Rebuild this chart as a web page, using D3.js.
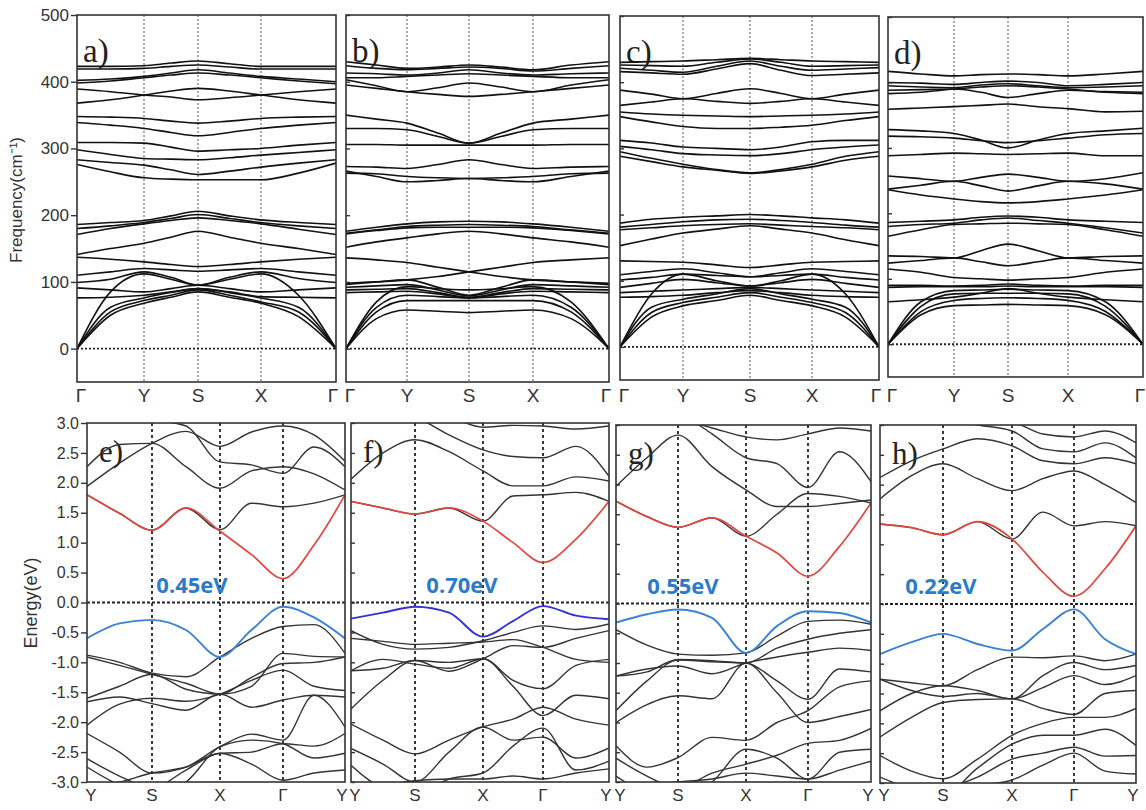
<!DOCTYPE html>
<html>
<head>
<meta charset="utf-8">
<script src="https://cdn.jsdelivr.net/npm/d3@7"></script>
<style>
body { margin: 0; background: #fff; }
svg { display: block; font-family: "Liberation Sans", Arial, sans-serif; }
</style>
</head>
<body>
<div id="chart"></div>
<script>
// k-path sample points (in segment units) shared by every band
const kGrid = [0, 0.5, 1, 1.5, 2, 2.5, 3, 3.5, 4];
const phononPath = ["Γ", "Y", "S", "X", "Γ"];
const electronPath = ["Y", "S", "X", "Γ", "Y"];
const freqTicks = [0, 100, 200, 300, 400, 500];
const energyTicks = [-3.0, -2.5, -2.0, -1.5, -1.0, -0.5, 0.0, 0.5, 1.0, 1.5, 2.0, 2.5, 3.0];
const topNames = ["a)", "b)", "c)", "d)"];
const bottomNames = ["e)", "f)", "g)", "h)"];
const gapLabels = ["0.45eV", "0.70eV", "0.55eV", "0.22eV"];

// phonon bands (cm-1) at Γ, ., Y, ., S, ., X, ., Γ
const phononA = [
  [423, 423, 424, 428, 431, 427, 423, 423, 423],
  [419, 419, 420, 423, 425, 422, 419, 419, 419],
  [402, 404, 408, 413, 418, 413, 408, 404, 400],
  [398, 401, 406, 410, 413, 410, 406, 401, 397],
  [389, 385, 380, 377, 373, 376, 380, 385, 389],
  [368, 373, 380, 386, 390, 386, 380, 373, 368],
  [348, 347, 345, 341, 338, 341, 345, 347, 348],
  [339, 335, 330, 324, 319, 324, 330, 335, 339],
  [309, 309, 308, 302, 296, 298, 300, 305, 309],
  [298, 291, 285, 284, 283, 286, 290, 294, 298],
  [283, 279, 275, 268, 261, 266, 272, 278, 283],
  [276, 265, 256, 254, 253, 253, 253, 263, 278],
  [186, 189, 192, 199, 206, 199, 193, 189, 186],
  [180, 184, 189, 195, 201, 195, 189, 184, 180],
  [171, 180, 187, 192, 196, 192, 187, 179, 171],
  [141, 150, 158, 167, 176, 167, 158, 150, 141],
  [137, 134, 130, 126, 123, 126, 130, 134, 137],
  [110, 115, 120, 118, 116, 118, 120, 115, 110],
  [99, 104, 115, 107, 95, 107, 115, 105, 99],
  [91, 88, 85, 90, 95, 90, 85, 88, 91],
  [76, 77, 80, 85, 90, 85, 78, 77, 76],
  [0, 85, 112, 104, 95, 104, 112, 80, 0],
  [0, 62, 76, 84, 90, 84, 76, 62, 0],
  [0, 55, 72, 80, 88, 80, 70, 55, 0],
  [0, 50, 68, 77, 85, 77, 68, 48, 0]
];
const phononB = [
  [430, 425, 420, 422, 425, 422, 418, 425, 430],
  [424, 420, 418, 420, 422, 420, 416, 420, 424],
  [413, 412, 410, 413, 418, 413, 410, 412, 413],
  [406, 406, 408, 410, 412, 410, 408, 406, 406],
  [403, 394, 385, 391, 398, 392, 385, 395, 403],
  [395, 390, 385, 381, 378, 381, 385, 390, 395],
  [350, 344, 338, 323, 308, 323, 338, 344, 350],
  [330, 330, 328, 318, 308, 318, 328, 330, 330],
  [306, 306, 305, 305, 305, 305, 305, 306, 306],
  [273, 272, 270, 276, 283, 276, 270, 272, 273],
  [266, 258, 250, 252, 255, 252, 250, 258, 266],
  [263, 262, 258, 256, 255, 256, 258, 262, 263],
  [176, 182, 187, 190, 191, 190, 187, 182, 176],
  [173, 178, 183, 185, 186, 185, 183, 178, 173],
  [172, 177, 181, 182, 182, 182, 181, 177, 172],
  [152, 160, 166, 172, 176, 172, 166, 160, 152],
  [136, 133, 129, 122, 115, 108, 103, 100, 98],
  [98, 100, 103, 108, 115, 122, 129, 133, 136],
  [96, 100, 103, 92, 80, 92, 103, 100, 96],
  [92, 94, 96, 88, 79, 88, 96, 94, 92],
  [88, 89, 90, 84, 77, 84, 90, 89, 88],
  [84, 85, 86, 82, 76, 82, 86, 85, 84],
  [0, 70, 93, 90, 88, 90, 93, 70, 0],
  [0, 62, 80, 78, 76, 78, 80, 62, 0],
  [0, 55, 72, 72, 72, 72, 72, 55, 0],
  [0, 45, 58, 56, 54, 56, 58, 45, 0]
];
const phononC = [
  [430, 431, 432, 434, 436, 434, 432, 431, 430],
  [426, 425, 424, 430, 435, 430, 424, 425, 426],
  [421, 418, 415, 424, 432, 424, 418, 420, 422],
  [416, 414, 412, 420, 428, 418, 410, 412, 414],
  [388, 382, 375, 383, 390, 383, 375, 382, 388],
  [365, 370, 375, 371, 368, 371, 375, 370, 365],
  [355, 352, 350, 349, 348, 349, 350, 352, 355],
  [348, 340, 333, 330, 330, 332, 335, 342, 348],
  [312, 308, 302, 300, 298, 302, 310, 312, 312],
  [303, 298, 292, 290, 289, 292, 298, 302, 305],
  [295, 285, 276, 268, 263, 268, 276, 288, 295],
  [288, 280, 272, 267, 262, 266, 272, 282, 288],
  [187, 193, 196, 198, 200, 198, 195, 192, 187],
  [181, 185, 189, 192, 193, 191, 188, 184, 181],
  [177, 180, 183, 185, 186, 184, 182, 180, 177],
  [153, 163, 172, 178, 183, 178, 172, 162, 153],
  [130, 129, 128, 124, 120, 124, 128, 129, 130],
  [109, 114, 118, 112, 106, 112, 118, 114, 109],
  [101, 105, 110, 108, 106, 108, 110, 105, 101],
  [90, 96, 102, 97, 92, 97, 102, 96, 90],
  [82, 84, 86, 88, 90, 88, 86, 84, 82],
  [75, 76, 78, 82, 85, 82, 78, 76, 75],
  [0, 80, 110, 100, 92, 100, 110, 80, 0],
  [0, 60, 72, 80, 88, 80, 72, 60, 0],
  [0, 52, 67, 75, 82, 75, 67, 52, 0],
  [0, 45, 62, 70, 78, 70, 62, 45, 0]
];
const phononD = [
  [417, 413, 410, 412, 413, 412, 410, 413, 417],
  [400, 399, 397, 400, 402, 400, 395, 397, 400],
  [395, 393, 392, 396, 398, 395, 392, 393, 395],
  [388, 389, 390, 385, 377, 383, 388, 386, 385],
  [383, 385, 390, 393, 395, 393, 390, 385, 383],
  [359, 361, 363, 365, 367, 363, 360, 355, 356],
  [328, 326, 322, 312, 300, 312, 322, 326, 330],
  [318, 317, 315, 311, 308, 311, 315, 320, 322],
  [288, 290, 292, 291, 290, 291, 292, 288, 288],
  [257, 253, 249, 255, 260, 255, 249, 253, 262],
  [237, 243, 249, 242, 234, 242, 249, 245, 237],
  [236, 228, 222, 218, 216, 218, 222, 228, 236],
  [186, 188, 190, 194, 196, 194, 190, 188, 186],
  [180, 183, 185, 190, 193, 189, 185, 178, 170],
  [165, 175, 183, 184, 185, 184, 183, 175, 165],
  [135, 134, 132, 143, 153, 143, 132, 134, 135],
  [124, 128, 132, 126, 120, 126, 132, 128, 124],
  [115, 110, 102, 100, 98, 100, 102, 110, 115],
  [90, 90, 89, 90, 92, 90, 89, 90, 90],
  [87, 88, 88, 88, 89, 88, 88, 88, 87],
  [65, 68, 72, 78, 85, 78, 72, 68, 65],
  [0, 65, 82, 83, 84, 83, 82, 65, 0],
  [0, 58, 77, 78, 78, 78, 77, 58, 0],
  [0, 50, 67, 70, 71, 70, 67, 50, 0],
  [0, 45, 59, 60, 61, 60, 59, 45, 0]
];

// electronic bands (eV) at Y, ., S, ., X, ., Γ, ., Y
const bandsE = [
  [1.94, 2.33, 2.66, 2.86, 2.61, 2.85, 2.95, 2.80, 2.36],
  [2.27, 2.64, 2.66, 2.27, 1.91, 2.20, 2.27, 2.15, 1.88],
  [3.20, 3.10, 3.05, 2.95, 2.35, 2.30, 2.16, 2.60, 2.27],
  [1.80, 1.49, 1.21, 1.58, 1.22, 1.66, 1.60, 1.66, 1.80],
  [-0.88, -1.00, -1.18, -1.24, -0.91, -0.60, -0.40, -0.37, -0.85],
  [-1.60, -1.40, -1.20, -1.45, -1.53, -1.25, -1.02, -1.00, -0.91],
  [-1.66, -1.58, -1.69, -1.80, -1.53, -1.75, -1.63, -1.55, -1.58],
  [-2.05, -1.70, -1.60, -1.65, -1.53, -1.30, -1.13, -1.40, -1.47],
  [-2.19, -2.50, -2.85, -2.75, -2.41, -2.20, -2.30, -1.55, -2.08],
  [-2.61, -2.90, -3.10, -2.80, -2.52, -2.50, -2.36, -2.40, -2.19],
  [-2.75, -3.05, -3.20, -3.00, -2.41, -2.30, -2.36, -2.60, -2.52],
  [-3.10, -3.00, -2.85, -2.75, -2.52, -2.70, -2.97, -2.85, -2.80],
  [-0.91, -1.05, -1.20, -1.35, -1.53, -1.40, -0.85, -0.90, -0.91]
];
const bandsF = [
  [2.06, 2.50, 2.72, 2.52, 2.20, 1.95, 1.95, 2.10, 2.03],
  [1.69, 1.58, 1.48, 1.58, 1.36, 1.78, 1.80, 1.84, 1.69],
  [3.20, 3.20, 3.20, 3.10, 2.93, 2.96, 2.95, 2.90, 2.95],
  [3.30, 3.20, 3.10, 2.80, 2.55, 2.44, 2.42, 2.61, 2.11],
  [-0.47, -0.70, -0.78, -0.75, -0.64, -0.50, -0.39, -0.45, -0.36],
  [-1.14, -1.10, -0.97, -1.15, -0.94, -0.72, -0.75, -0.60, -0.47],
  [-1.14, -0.95, -1.03, -1.10, -0.94, -1.30, -1.44, -1.05, -0.95],
  [-1.78, -1.30, -0.97, -1.00, -0.94, -1.40, -1.89, -1.55, -1.61],
  [-2.03, -2.30, -2.53, -2.30, -2.08, -1.95, -1.75, -1.95, -2.05],
  [-2.44, -2.70, -3.00, -2.50, -2.08, -2.30, -2.25, -2.60, -2.43],
  [-2.72, -3.10, -3.20, -2.95, -2.85, -2.40, -2.10, -2.80, -2.65],
  [-3.10, -3.05, -2.98, -2.95, -2.95, -2.90, -2.95, -2.85, -2.78],
  [-0.60, -0.65, -0.70, -0.68, -0.66, -0.62, -0.75, -0.95, -1.00]
];
const bandsG = [
  [1.97, 2.45, 2.83, 2.30, 1.91, 1.63, 1.63, 1.68, 1.74],
  [1.72, 1.46, 1.28, 1.44, 1.13, 1.50, 1.85, 1.80, 1.69],
  [3.30, 3.30, 3.20, 2.85, 2.45, 2.35, 1.95, 2.55, 2.05],
  [3.20, 3.20, 3.10, 2.95, 2.80, 2.75, 2.85, 2.95, 2.90],
  [-0.44, -0.70, -0.85, -0.87, -0.83, -0.55, -0.30, -0.28, -0.35],
  [-1.22, -1.15, -0.94, -0.96, -1.00, -0.75, -0.60, -0.50, -0.44],
  [-1.22, -1.10, -1.05, -1.18, -1.00, -0.90, -0.82, -0.75, -0.79],
  [-1.80, -1.30, -0.95, -0.98, -1.00, -1.30, -1.61, -1.10, -1.15],
  [-2.39, -2.75, -2.59, -2.25, -2.30, -2.00, -1.80, -1.40, -1.30],
  [-2.00, -1.70, -1.55, -1.60, -1.00, -1.50, -2.00, -1.90, -1.78],
  [-2.60, -2.90, -3.10, -2.85, -2.70, -2.55, -2.35, -2.30, -2.10],
  [-3.10, -3.05, -3.00, -2.95, -2.85, -2.90, -2.95, -2.80, -2.65],
  [-2.90, -3.20, -3.30, -3.00, -2.45, -2.60, -2.95, -2.50, -2.45]
];
const bandsH = [
  [1.76, 2.15, 2.35, 2.10, 1.90, 2.10, 2.23, 2.00, 1.70],
  [2.12, 2.40, 2.60, 2.77, 2.65, 2.40, 2.35, 2.45, 2.35],
  [1.34, 1.28, 1.16, 1.38, 1.09, 1.54, 1.31, 1.38, 1.31],
  [3.20, 3.20, 3.10, 3.00, 2.90, 2.60, 2.55, 2.70, 2.45],
  [3.30, 3.30, 3.20, 3.10, 3.05, 2.85, 2.80, 2.90, 2.70],
  [-1.26, -1.32, -1.37, -1.10, -0.89, -0.90, -0.87, -0.95, -0.84],
  [-1.79, -1.50, -1.37, -1.45, -1.59, -1.20, -0.98, -1.10, -1.03],
  [-1.26, -1.45, -1.55, -1.50, -1.59, -1.40, -1.20, -1.35, -1.20],
  [-2.23, -1.90, -1.65, -1.60, -1.59, -1.75, -1.85, -1.50, -1.45],
  [-2.54, -2.80, -2.93, -2.60, -2.20, -2.00, -1.90, -1.90, -1.75],
  [-2.90, -3.10, -3.20, -2.75, -2.35, -2.20, -2.20, -2.10, -2.37],
  [-3.20, -3.20, -3.10, -2.90, -2.60, -2.50, -2.40, -2.55, -2.54],
  [-3.20, -3.20, -3.20, -3.05, -2.95, -2.70, -2.50, -2.80, -2.85]
];
// lowest conduction band (red) and highest valence band (blue)
const cbmBands = [
  [1.80, 1.49, 1.21, 1.58, 1.19, 0.80, 0.40, 0.96, 1.80],
  [1.69, 1.58, 1.48, 1.58, 1.36, 1.00, 0.67, 1.06, 1.69],
  [1.72, 1.46, 1.28, 1.44, 1.13, 0.85, 0.46, 0.96, 1.69],
  [1.34, 1.28, 1.16, 1.38, 1.09, 0.53, 0.13, 0.59, 1.31]
];
const vbmBands = [
  [-0.60, -0.35, -0.29, -0.46, -0.91, -0.46, -0.07, -0.25, -0.60],
  [-0.27, -0.17, -0.07, -0.17, -0.57, -0.31, -0.06, -0.22, -0.28],
  [-0.32, -0.18, -0.10, -0.24, -0.83, -0.38, -0.13, -0.16, -0.32],
  [-0.84, -0.64, -0.50, -0.67, -0.78, -0.42, -0.09, -0.59, -0.84]
];

const phononSets = [phononA, phononB, phononC, phononD];
const electronSets = [bandsE, bandsF, bandsG, bandsH];

// panel geometry
const topLayout = [
  {kx: [77, 144, 198, 261, 336], top: 15, bottom: 382},
  {kx: [346, 407, 469, 533, 609], top: 15, bottom: 382},
  {kx: [620, 683, 750, 812, 879], top: 16, bottom: 380},
  {kx: [888, 954, 1008, 1068, 1143], top: 17, bottom: 377}
];
const bottomLayout = [
  {kx: [87, 152, 220, 283, 345], top: 423, bottom: 782, gapX: 192},
  {kx: [351, 415, 483, 543, 609], top: 423, bottom: 782, gapX: 462},
  {kx: [616, 678, 746, 808, 871], top: 425, bottom: 782, gapX: 683},
  {kx: [880, 943, 1012, 1074, 1136], top: 425, bottom: 783, gapX: 941}
];
const blueColors = ["#3b82d4", "#3232d6", "#3b82d4", "#3b82d4"];

const svg = d3.select("#chart").append("svg")
    .attr("width", 1146)
    .attr("height", 810);

function drawPanel(L, i, kind) {
    const isTop = kind == "top";
    const x = d3.scaleLinear().domain([0, 1, 2, 3, 4]).range(L.kx);
    const y = d3.scaleLinear()
        .domain(isTop ? [-50, 500] : [-3, 3])
        .range([L.bottom, L.top]);
    const g = svg.append("g");
    const clipId = kind + "clip" + i;

    svg.append("clipPath").attr("id", clipId)
        .append("rect")
        .attr("x", L.kx[0]).attr("y", L.top)
        .attr("width", L.kx[4] - L.kx[0])
        .attr("height", L.bottom - L.top);

    // panel letter sits under the bands
    g.append("text")
        .attr("x", L.kx[0] + (isTop ? 6 : 12))
        .attr("y", L.top + (isTop ? 47 : 39))
        .attr("font-family", "'Liberation Serif', 'Times New Roman', serif")
        .attr("font-size", isTop ? 33 : 31)
        .attr("fill", "#222")
        .text(isTop ? topNames[i] : bottomNames[i]);

    // high-symmetry guides
    g.selectAll(".vguide").data([1, 2, 3]).join("line")
        .attr("x1", d => x(d)).attr("x2", d => x(d))
        .attr("y1", L.top).attr("y2", L.bottom)
        .attr("stroke", isTop ? "#555" : "#222")
        .attr("stroke-width", isTop ? 1 : 1.8)
        .attr("stroke-dasharray", isTop ? "2,2" : "3,3");

    g.append("line")
        .attr("x1", L.kx[0]).attr("x2", L.kx[4])
        .attr("y1", y(0)).attr("y2", y(0))
        .attr("stroke", "#222")
        .attr("stroke-width", 1.8)
        .attr("stroke-dasharray", isTop ? "2,2" : "3,2");

    const line = d3.line()
        .x((d, j) => x(kGrid[j]))
        .y(d => y(d))
        .curve(d3.curveMonotoneX);

    const bandG = g.append("g").attr("clip-path", `url(#${clipId})`);
    bandG.selectAll(".band")
        .data(isTop ? phononSets[i] : electronSets[i])
        .join("path")
        .attr("d", line)
        .attr("fill", "none")
        .attr("stroke", isTop ? "#111" : "#333")
        .attr("stroke-width", isTop ? 1.6 : 1.4);

    if (!isTop) {
        bandG.append("path").attr("d", line(cbmBands[i]))
            .attr("fill", "none").attr("stroke", "#e2463f").attr("stroke-width", 1.7);
        bandG.append("path").attr("d", line(vbmBands[i]))
            .attr("fill", "none").attr("stroke", blueColors[i]).attr("stroke-width", 1.9);

        g.append("text")
            .attr("x", L.gapX)
            .attr("y", y(0) - 10)
            .attr("text-anchor", "middle")
            .attr("font-family", "'Open Sans', 'Noto Sans', sans-serif")
            .attr("font-weight", "bold")
            .attr("font-size", 22)
            .attr("fill", "#2b7bc9")
            .text(gapLabels[i]);
    }

    // frame
    g.append("rect")
        .attr("x", L.kx[0]).attr("y", L.top)
        .attr("width", L.kx[4] - L.kx[0])
        .attr("height", L.bottom - L.top)
        .attr("fill", "none")
        .attr("stroke", "#333")
        .attr("stroke-width", 1.6);

    // y axis: labels on the first panel of each row only
    const axis = d3.axisLeft(y)
        .tickValues(isTop ? freqTicks : energyTicks)
        .tickFormat(i == 0 ? (isTop ? d => d : d => d.toFixed(1)) : "")
        .tickSize(i == 0 ? 6 : -4)
        .tickPadding(2);
    const ax = svg.append("g")
        .attr("transform", `translate(${L.kx[0]},0)`)
        .call(axis);
    ax.select(".domain").remove();
    ax.selectAll(".tick line").attr("stroke", "#333").attr("stroke-width", 1.4);
    ax.selectAll(".tick text")
        .attr("font-family", "'Liberation Sans', Arial, sans-serif")
        .attr("font-size", isTop ? 17 : 16)
        .attr("fill", "#333");

    // k-point labels
    svg.append("g").selectAll("text")
        .data(isTop ? phononPath : electronPath)
        .join("text")
        .attr("x", (d, j) => x(j) + (j == 0 ? 4 : j == 4 ? -3 : 0))
        .attr("y", isTop ? 402 : 801)
        .attr("text-anchor", "middle")
        .attr("font-size", isTop ? 19 : 17)
        .attr("fill", "#333")
        .text(d => d);
}

topLayout.forEach((L, i) => drawPanel(L, i, "top"));
bottomLayout.forEach((L, i) => drawPanel(L, i, "bottom"));

// axis titles
svg.append("text")
    .attr("transform", "translate(22,200) rotate(-90)")
    .attr("text-anchor", "middle")
    .attr("font-size", 17)
    .attr("fill", "#333")
    .text("Frequency(cm⁻¹)");
svg.append("text")
    .attr("transform", "translate(37,603) rotate(-90)")
    .attr("text-anchor", "middle")
    .attr("font-size", 18)
    .attr("fill", "#333")
    .text("Energy(eV)");
</script>
</body>
</html>
